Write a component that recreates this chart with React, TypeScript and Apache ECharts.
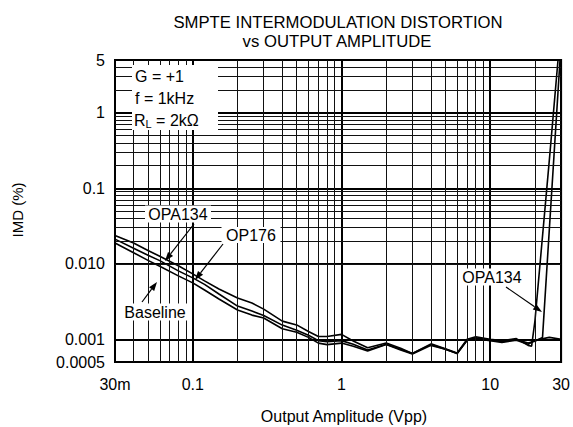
import React, { useEffect, useRef } from 'react';
import * as echarts from 'echarts';

const FONT = '"Liberation Sans", Arial, Helvetica, sans-serif';

// Output amplitude (Vpp) sample points shared by the three curves
const ampVpp = [0.03, 0.04, 0.05, 0.06, 0.08, 0.1, 0.12, 0.15, 0.2, 0.25, 0.3, 0.4, 0.5, 0.6, 0.7, 0.8, 1, 1.2, 1.5, 2, 2.5, 3, 4, 5, 6, 7, 8, 10, 12, 15, 18];

// IMD (%) values
const opa134Imd = [0.0236, 0.0188, 0.015, 0.01255, 0.0094, 0.00735, 0.00593, 0.00464, 0.00352, 0.00302, 0.00251, 0.00174, 0.00155, 0.00127, 0.00109, 0.00109, 0.00116, 0.00095, 0.00077, 0.00089, 0.00076, 0.00065, 0.00087, 0.00075, 0.00066, 0.001, 0.00108, 0.001, 0.00096, 0.00102, 0.00083];
const opa134TailVpp = [19, 20, 25, 28.6];
const opa134TailImd = [0.00081, 0.00174, 0.236, 5];

const op176Imd = [0.0212, 0.0161, 0.013, 0.011, 0.00806, 0.0065, 0.00533, 0.00398, 0.00275, 0.00236, 0.00206, 0.00154, 0.00132, 0.00113, 0.00096, 0.00093, 0.00096, 0.00086, 0.00072, 0.00086, 0.00074, 0.00065, 0.00085, 0.00074, 0.00065, 0.00097, 0.00105, 0.00097, 0.00093, 0.00099, 0.00089];
const op176TailVpp = [20, 22.5, 29.5];
const op176TailImd = [0.00094, 0.00106, 5];

const baselineImd = [0.0188, 0.014, 0.0111, 0.00926, 0.00692, 0.00558, 0.0045, 0.00341, 0.00244, 0.00209, 0.00191, 0.00138, 0.00124, 0.00106, 0.00089, 0.00085, 0.00089, 0.00081, 0.0007, 0.00085, 0.00072, 0.00064, 0.00083, 0.00074, 0.00065, 0.00097, 0.00102, 0.00096, 0.00091, 0.00097, 0.00086];
const baselineTailVpp = [20, 25, 30];
const baselineTailImd = [0.00097, 0.00106, 0.001];

// Axis ticks
const xTickValues = [0.03, 0.1, 1, 10, 30];
const xTickLabels = ['30m', '0.1', '1', '10', '30'];
const yTickValues = [0.0005, 0.001, 0.01, 0.1, 1, 5];
const yTickLabels = ['0.0005', '0.001', '0.010', '0.1', '1', '5'];

// Minor log grid lines
const xMinorGrid = [0.04, 0.05, 0.06, 0.07, 0.08, 0.09, 0.2, 0.3, 0.4, 0.5, 0.6, 0.7, 0.8, 0.9, 2, 3, 4, 5, 6, 7, 8, 9, 20];
const yMinorGrid = [0.0006, 0.0007, 0.0008, 0.0009, 0.002, 0.003, 0.004, 0.005, 0.006, 0.007, 0.008, 0.009, 0.02, 0.03, 0.04, 0.05, 0.06, 0.07, 0.08, 0.09, 0.2, 0.3, 0.4, 0.5, 0.6, 0.7, 0.8, 0.9, 2, 3, 4];

const pairs = (xs: number[], ys: number[]) => xs.map((x, i) => [x, ys[i]]);

const labelFor = (values: number[], labels: string[]) => (v: number) => {
  for (let i = 0; i < values.length; i++) {
    if (Math.abs(Math.log10(v) - Math.log10(values[i])) < 0.02) return labels[i];
  }
  return '';
};

function arrow(x1: number, y1: number, x2: number, y2: number) {
  const dx = x2 - x1;
  const dy = y2 - y1;
  const len = Math.sqrt(dx * dx + dy * dy);
  const ux = dx / len;
  const uy = dy / len;
  const bx = x2 - ux * 9;
  const by = y2 - uy * 9;
  const nx = -uy * 3.2;
  const ny = ux * 3.2;
  return [
    { type: 'line', z: 100, shape: { x1, y1, x2: bx, y2: by }, style: { stroke: '#000', lineWidth: 1.2 } },
    { type: 'polygon', z: 100, shape: { points: [[x2, y2], [bx + nx, by + ny], [bx - nx, by - ny]] }, style: { fill: '#000' } },
  ];
}

function boxedLabel(text: string, cx: number, cy: number, w: number, h: number) {
  return [
    { type: 'rect', z: 100, shape: { x: cx - w / 2, y: cy - h / 2, width: w, height: h }, style: { fill: '#fff' } },
    { type: 'text', z: 101, x: cx, y: cy, style: { text, font: `16px ${FONT}`, fill: '#000', textAlign: 'center', textVerticalAlign: 'middle' } },
  ];
}

const curveStyle = { color: '#000', width: 1.6 };

export default function App() {
  const ref = useRef<HTMLDivElement>(null);
  useEffect(() => {
    const chart = echarts.init(ref.current!, null, { renderer: 'svg' });
    const option: any = {
      animation: false,
      backgroundColor: '#fff',
      grid: { left: 115, right: 11, top: 60, bottom: 65, show: true, borderColor: '#000', borderWidth: 2, backgroundColor: 'transparent' },
      xAxis: {
        type: 'log',
        logBase: 10,
        min: xTickValues[0],
        max: xTickValues[xTickValues.length - 1],
        axisLine: { show: false },
        axisTick: { show: false },
        axisLabel: { show: true, showMinLabel: true, showMaxLabel: true, margin: 14, color: '#000', fontSize: 16, fontFamily: FONT, formatter: labelFor(xTickValues, xTickLabels) },
        splitLine: { show: true, lineStyle: { color: '#000', width: 2 } },
      },
      yAxis: {
        type: 'log',
        logBase: 10,
        min: yTickValues[0],
        max: yTickValues[yTickValues.length - 1],
        axisLine: { show: false },
        axisTick: { show: false },
        axisLabel: { show: true, showMinLabel: true, showMaxLabel: true, margin: 10, color: '#000', fontSize: 16, fontFamily: FONT, formatter: labelFor(yTickValues, yTickLabels) },
        splitLine: { show: true, lineStyle: { color: '#000', width: 2 } },
      },
      series: [
        {
          type: 'line',
          name: 'grid',
          data: [],
          silent: true,
          z: 1,
          markLine: {
            silent: true,
            symbol: ['none', 'none'],
            label: { show: false },
            lineStyle: { color: '#111', width: 1, type: 'solid' },
            emphasis: { disabled: true },
            data: [
              ...xMinorGrid.map((v) => ({ xAxis: v })),
              ...yMinorGrid.map((v) => ({ yAxis: v })),
            ],
          },
        },
        {
          type: 'line', name: 'OPA134', z: 3, showSymbol: false, symbol: 'none', lineStyle: curveStyle,
          data: [...pairs(ampVpp, opa134Imd), ...pairs(opa134TailVpp, opa134TailImd)],
        },
        {
          type: 'line', name: 'OP176', z: 3, showSymbol: false, symbol: 'none', lineStyle: curveStyle,
          data: [...pairs(ampVpp, op176Imd), ...pairs(op176TailVpp, op176TailImd)],
        },
        {
          type: 'line', name: 'Baseline', z: 3, showSymbol: false, symbol: 'none', lineStyle: curveStyle,
          data: [...pairs(ampVpp, baselineImd), ...pairs(baselineTailVpp, baselineTailImd)],
        },
      ],
      graphic: [
        { type: 'text', z: 100, x: 338, y: 22, style: { text: 'SMPTE INTERMODULATION DISTORTION', font: `16.7px ${FONT}`, fill: '#000', textAlign: 'center', textVerticalAlign: 'middle' } },
        { type: 'text', z: 100, x: 337, y: 41, style: { text: 'vs OUTPUT AMPLITUDE', font: `16.7px ${FONT}`, fill: '#000', textAlign: 'center', textVerticalAlign: 'middle' } },
        { type: 'text', z: 100, x: 344, y: 416, style: { text: 'Output Amplitude (Vpp)', font: `16px ${FONT}`, fill: '#000', textAlign: 'center', textVerticalAlign: 'middle' } },
        { type: 'text', z: 100, x: 17, y: 210, rotation: Math.PI / 2, style: { text: 'IMD (%)', font: `15px ${FONT}`, fill: '#000', textAlign: 'center', textVerticalAlign: 'middle' } },
        // condition box
        { type: 'rect', z: 100, shape: { x: 132, y: 65, width: 86, height: 65 }, style: { fill: '#fff' } },
        { type: 'text', z: 101, x: 135, y: 76, style: { text: 'G = +1', font: `16px ${FONT}`, fill: '#000', textAlign: 'left', textVerticalAlign: 'middle' } },
        { type: 'text', z: 101, x: 135, y: 98, style: { text: 'f = 1kHz', font: `16px ${FONT}`, fill: '#000', textAlign: 'left', textVerticalAlign: 'middle' } },
        {
          type: 'text', z: 101, x: 134, y: 120,
          style: {
            text: 'R{sub|L} = 2kΩ', font: `16px ${FONT}`, fill: '#000', textAlign: 'left', textVerticalAlign: 'middle',
            rich: { sub: { fontSize: 11, fontFamily: FONT, fill: '#000', padding: [8, 0, 0, 0] } },
          },
        },
        ...boxedLabel('OPA134', 178, 214, 66, 17),
        ...boxedLabel('OP176', 251, 235, 59, 16),
        ...boxedLabel('Baseline', 155, 312, 71, 17),
        ...boxedLabel('OPA134', 492, 277, 67, 17),
        ...arrow(194, 224, 165, 261),
        ...arrow(223, 244, 195, 280),
        ...arrow(142, 302, 157, 282),
        ...arrow(506, 287, 542, 312),
      ],
    };
    chart.setOption(option);
    return () => chart.dispose();
  }, []);
  return <div ref={ref} style={{ position: 'fixed', left: 0, top: 0, width: 573, height: 427, background: '#fff' }} />;
}
